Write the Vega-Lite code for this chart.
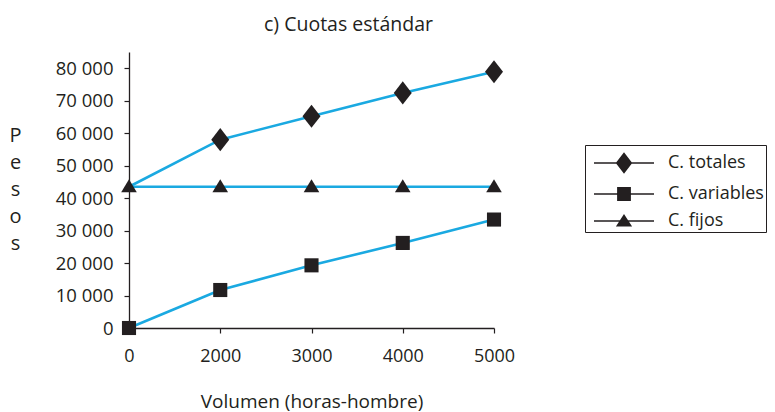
{
  "$schema": "https://vega.github.io/schema/vega-lite/v6.json",
  "width": 365,
  "height": 276,
  "autosize": {"type": "none"},
  "padding": {"left": 129, "top": 52, "right": 281, "bottom": 84},
  "background": "white",
  "title": {
    "text": "c)  Cuotas estándar",
    "font": "Open Sans",
    "fontSize": 19.5,
    "fontWeight": "normal",
    "color": "#231f20",
    "anchor": "middle",
    "dx": 37,
    "offset": 17
  },
  "config": {"view": {"stroke": null}, "font": "Open Sans"},
  "data": {
    "values": [
      {"vol": "0", "series": "C. totales", "pesos": 43500},
      {"vol": "2000", "series": "C. totales", "pesos": 58000},
      {"vol": "3000", "series": "C. totales", "pesos": 65200},
      {"vol": "4000", "series": "C. totales", "pesos": 72400},
      {"vol": "5000", "series": "C. totales", "pesos": 78900},
      {"vol": "0", "series": "C. variables", "pesos": 0},
      {"vol": "2000", "series": "C. variables", "pesos": 11700},
      {"vol": "3000", "series": "C. variables", "pesos": 19300},
      {"vol": "4000", "series": "C. variables", "pesos": 26200},
      {"vol": "5000", "series": "C. variables", "pesos": 33400},
      {"vol": "0", "series": "C. fijos", "pesos": 43500},
      {"vol": "2000", "series": "C. fijos", "pesos": 43500},
      {"vol": "3000", "series": "C. fijos", "pesos": 43500},
      {"vol": "4000", "series": "C. fijos", "pesos": 43500},
      {"vol": "5000", "series": "C. fijos", "pesos": 43500}
    ]
  },
  "encoding": {
    "x": {
      "field": "vol",
      "type": "ordinal",
      "sort": ["0", "2000", "3000", "4000", "5000"],
      "scale": {"type": "point", "padding": 0},
      "axis": {
        "title": "Volumen (horas-hombre)",
        "titleFont": "Open Sans",
        "titleFontSize": 19,
        "titleFontWeight": "normal",
        "titleColor": "#231f20",
        "titleY": 79,
        "titleBaseline": "alphabetic",
        "labelAngle": 0,
        "labelFont": "Open Sans",
        "labelFontSize": 18,
        "labelColor": "#231f20",
        "labelPadding": 14,
        "tickSize": 5,
        "tickColor": "#231f20",
        "tickWidth": 1.2,
        "domainColor": "#231f20",
        "domainWidth": 1.3,
        "grid": false,
        "encode": {"ticks": {"update": {"y": {"value": -4}, "y2": {"value": 4}}}}
      }
    },
    "y": {
      "field": "pesos",
      "type": "quantitative",
      "scale": {"domain": [0, 85000], "nice": false},
      "axis": {
        "values": [0, 10000, 20000, 30000, 40000, 50000, 60000, 70000, 80000],
        "labelExpr": "replace(format(datum.value, ','), ',', ' ')",
        "title": ["P", "e", "s", "o", "s"],
        "titleAngle": 0,
        "titleX": -114,
        "titleY": 83,
        "titleAlign": "center",
        "titleBaseline": "middle",
        "titleFont": "Open Sans",
        "titleFontSize": 20,
        "titleFontWeight": "normal",
        "titleColor": "#231f20",
        "titleLineHeight": 27,
        "labelFont": "Open Sans",
        "labelFontSize": 18.5,
        "labelColor": "#231f20",
        "labelPadding": 11,
        "tickSize": 5,
        "tickColor": "#231f20",
        "tickWidth": 1.2,
        "domainColor": "#231f20",
        "domainWidth": 1.3,
        "grid": false,
        "encode": {"ticks": {"update": {"x": {"value": 5}, "x2": {"value": -5}}}}
      }
    }
  },
  "resolve": {"scale": {"shape": "independent"}, "legend": {"shape": "independent"}},
  "layer": [
    {
      "mark": {"type": "line", "color": "#1aa9e1", "strokeWidth": 2.6},
      "encoding": {"detail": {"field": "series"}}
    },
    {
      "transform": [{"filter": "datum.series != 'C. totales' || datum.vol != '0'"}],
      "mark": {"type": "point", "filled": true, "opacity": 1, "color": "#231f20", "size": 900},
      "encoding": {
        "shape": {
          "field": "series",
          "type": "nominal",
          "scale": {
            "domain": ["C. totales", "C. variables", "C. fijos"],
            "range": [
              "M0,-0.77L0.6,0L0,0.77L-0.6,0Z",
              "M-0.47,-0.47H0.47V0.47H-0.47Z",
              "M0,-0.5L0.52,0.37L-0.52,0.37Z"
            ]
          },
          "legend": null
        }
      }
    },
    {
      "mark": {"type": "point", "filled": true, "opacity": 0, "color": "#231f20", "size": 900},
      "encoding": {
        "shape": {
          "field": "series",
          "type": "nominal",
          "scale": {
            "domain": ["C. totales", "C. variables", "C. fijos"],
            "range": [
              "M-2,-0.05H2V0.05H-2ZM0,-0.72L0.55,0L0,0.72L-0.55,0Z",
              "M-2,-0.05H2V0.05H-2ZM-0.46,-0.46H0.46V0.46H-0.46Z",
              "M-2,-0.05H2V0.05H-2ZM0,-0.47L0.54,0.36L-0.54,0.36Z"
            ]
          },
          "legend": {
            "orient": "none",
            "legendX": 456,
            "legendY": 93,
            "title": null,
            "strokeColor": "#231f20",
            "padding": 2,
            "symbolSize": 900,
            "symbolOffset": 21,
            "symbolOpacity": 1,
            "symbolFillColor": "#231f20",
            "labelOffset": 28,
            "rowPadding": 1,
            "labelFont": "Open Sans",
            "labelFontSize": 18,
            "labelColor": "#231f20",
            "labelLimit": 300
          }
        }
      }
    }
  ]
}
